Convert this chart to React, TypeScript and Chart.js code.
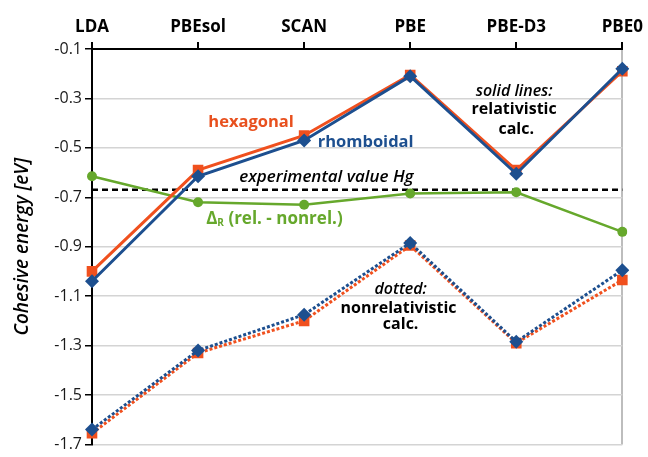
import { useEffect, useRef } from 'react';
import { Chart, registerables } from 'chart.js';

Chart.register(...registerables);

const methods = ['LDA', 'PBEsol', 'SCAN', 'PBE', 'PBE-D3', 'PBE0'];
const rhombRel = [-1.04, -0.615, -0.47, -0.21, -0.605, -0.18];
const hexRel = [-1.0, -0.59, -0.45, -0.205, -0.59, -0.19];
const deltaR = [-0.615, -0.72, -0.73, -0.685, -0.68, -0.84];
const rhombNonrel = [-1.64, -1.32, -1.175, -0.885, -1.285, -0.995];
const hexNonrel = [-1.655, -1.33, -1.2, -0.895, -1.29, -1.035];
const experimentalHg = -0.67;
const yTicks = [-0.1, -0.3, -0.5, -0.7, -0.9, -1.1, -1.3, -1.5, -1.7];

const ORANGE = '#f0501e';
const BLUE = '#1d4f8f';
const GREEN = '#66a82c';
const FONT = '"Open Sans", Lato, sans-serif';

type Note = { text: string; x: number; y: number; color: string; style: string; size: number };
const notes: Note[] = [
  { text: 'hexagonal', x: 1.5, y: -0.396, color: '#e8501e', style: 'bold', size: 16.5 },
  { text: 'rhomboidal', x: 2.58, y: -0.476, color: BLUE, style: 'bold', size: 16.5 },
  { text: 'experimental value Hg', x: 2.21, y: -0.62, color: '#000', style: 'italic 600', size: 17 },
  { text: 'solid lines:', x: 3.98, y: -0.272, color: '#000', style: 'italic 600', size: 16 },
  { text: 'relativistic', x: 3.98, y: -0.344, color: '#000', style: 'bold', size: 16 },
  { text: 'calc.', x: 4.0, y: -0.424, color: '#000', style: 'bold', size: 16 },
  { text: 'dotted:', x: 2.91, y: -1.072, color: '#000', style: 'italic 600', size: 16 },
  { text: 'nonrelativistic', x: 2.89, y: -1.148, color: '#000', style: 'bold', size: 16 },
  { text: 'calc.', x: 2.91, y: -1.216, color: '#000', style: 'bold', size: 16 },
];
const deltaNote = { x: 1.72, y: -0.788 };

const notesPlugin = {
  id: 'notes',
  afterDatasetsDraw(chart: any) {
    const ctx = chart.ctx;
    const xs = chart.scales.x;
    const ys = chart.scales.y;
    ctx.save();
    ctx.textBaseline = 'middle';
    ctx.textAlign = 'center';
    for (const n of notes) {
      ctx.font = `${n.style} ${n.size}px ${FONT}`;
      ctx.fillStyle = n.color;
      ctx.fillText(n.text, xs.getPixelForValue(n.x), ys.getPixelForValue(n.y));
    }
    // Delta_R label with subscript
    const cx = xs.getPixelForValue(deltaNote.x);
    const cy = ys.getPixelForValue(deltaNote.y);
    ctx.fillStyle = GREEN;
    ctx.textAlign = 'left';
    const big = `bold 17px ${FONT}`;
    const small = `bold 10px ${FONT}`;
    ctx.font = big;
    const wD = ctx.measureText('Δ').width;
    const rest = ' (rel. - nonrel.)';
    const wRest = ctx.measureText(rest).width;
    ctx.font = small;
    const wR = ctx.measureText('R').width;
    let x0 = cx - (wD + wR + wRest) / 2;
    ctx.font = big;
    ctx.fillText('Δ', x0, cy);
    x0 += wD;
    ctx.font = small;
    ctx.fillText('R', x0, cy + 4);
    x0 += wR;
    ctx.font = big;
    ctx.fillText(rest, x0, cy);
    ctx.restore();
  },
};

export default function App() {
  const ref = useRef<HTMLCanvasElement>(null);
  useEffect(() => {
    if (!ref.current) return;
    const chart = new Chart(ref.current, {
      type: 'line',
      data: {
        labels: methods,
        datasets: [
          {
            label: 'rhomboidal (rel.)',
            data: rhombRel,
            borderColor: BLUE,
            backgroundColor: BLUE,
            borderWidth: 3,
            pointStyle: 'rectRot',
            pointRadius: 7,
            pointBorderWidth: 0,
          },
          {
            label: 'hexagonal (rel.)',
            data: hexRel,
            borderColor: ORANGE,
            backgroundColor: ORANGE,
            borderWidth: 3,
            pointStyle: 'rect',
            pointRadius: 7.5,
            pointBorderWidth: 0,
          },
          {
            label: 'ΔR (rel. - nonrel.)',
            data: deltaR,
            borderColor: GREEN,
            backgroundColor: GREEN,
            borderWidth: 2.5,
            pointStyle: 'circle',
            pointRadius: 5,
            pointBorderWidth: 0,
          },
          {
            label: 'experimental value Hg',
            data: methods.map(() => experimentalHg),
            borderColor: '#000',
            borderWidth: 2.5,
            borderDash: [6, 4],
            pointRadius: 0,
          },
          {
            label: 'rhomboidal (nonrel.)',
            data: rhombNonrel,
            borderColor: BLUE,
            backgroundColor: BLUE,
            borderWidth: 3,
            borderDash: [3, 2],
            pointStyle: 'rectRot',
            pointRadius: 7,
            pointBorderWidth: 0,
          },
          {
            label: 'hexagonal (nonrel.)',
            data: hexNonrel,
            borderColor: ORANGE,
            backgroundColor: ORANGE,
            borderWidth: 3,
            borderDash: [3, 2],
            pointStyle: 'rect',
            pointRadius: 7.5,
            pointBorderWidth: 0,
          },
        ],
      },
      options: {
        responsive: false,
        animation: false,
        layout: { padding: { left: 0, right: 24, top: 0, bottom: 8 } },
        plugins: { legend: { display: false }, tooltip: { enabled: false } },
        scales: {
          x: {
            type: 'category',
            position: 'top',
            offset: false,
            grid: {
              offset: false,
              color: (c: any) => (c.index === methods.length - 1 ? '#bdbdbd' : 'rgba(0,0,0,0)'),
              lineWidth: 2,
              tickColor: '#000',
              tickLength: 7,
            },
            border: { color: '#000', width: 2 },
            ticks: {
              color: '#000',
              padding: 5,
              maxRotation: 0,
              font: { family: FONT, size: 17, weight: 'bold' },
            },
            afterFit: (s: any) => {
              s.height = 49;
            },
          },
          y: {
            type: 'linear',
            min: -1.7,
            max: -0.1,
            grid: {
              color: '#d4d4d4',
              lineWidth: 1.5,
              tickColor: '#000',
              tickLength: 7,
            },
            border: { color: '#000', width: 2 },
            ticks: {
              color: '#1a1a1a',
              padding: 3,
              font: { family: FONT, size: 16, weight: 500 },
              callback: (v: any) => Number(v).toFixed(1),
            },
            afterBuildTicks: (s: any) => {
              s.ticks = yTicks.map((v) => ({ value: v }));
            },
            title: {
              display: true,
              text: 'Cohesive energy [eV]',
              color: '#000',
              padding: { top: 11, bottom: 0 },
              font: { family: FONT, size: 19, style: 'italic', weight: 600 },
            },
            afterFit: (s: any) => {
              s.width = 92;
            },
          },
        },
      },
      plugins: [notesPlugin],
    } as any);
    return () => chart.destroy();
  }, []);
  return (
    <div style={{ position: 'fixed', left: 0, top: 0, width: 648, height: 457, background: '#fff' }}>
      <canvas ref={ref} width={648} height={457} style={{ display: 'block' }} />
    </div>
  );
}
